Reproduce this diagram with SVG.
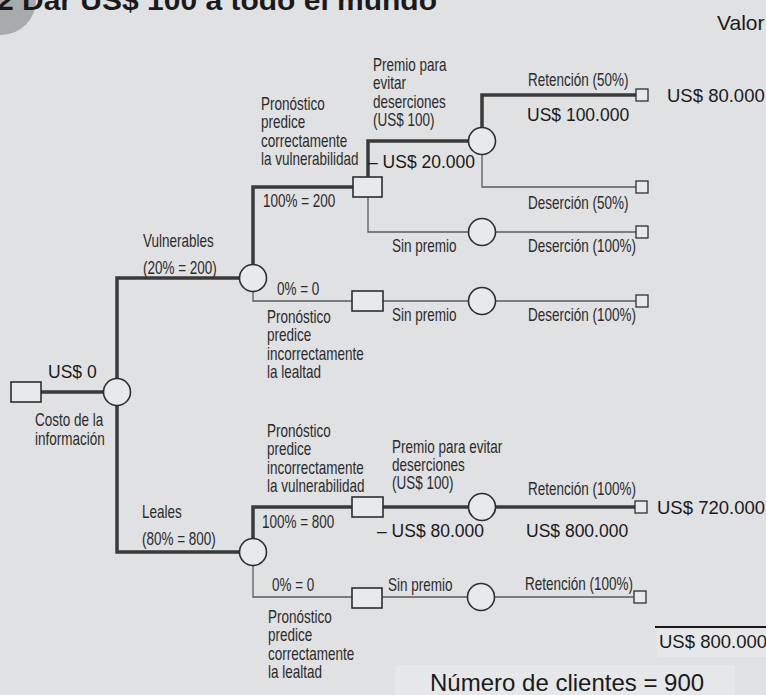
<svg xmlns="http://www.w3.org/2000/svg" width="766" height="695" viewBox="0 0 766 695">
<style>
.lbl{font-family:"Liberation Sans",Arial,sans-serif;font-size:18px;fill:#2b2b2b}
.val{font-family:"Liberation Sans",Arial,sans-serif;font-size:17.5px;fill:#1a1a1a}
.big{font-family:"Liberation Sans",Arial,sans-serif;font-size:18.5px;fill:#1a1a1a}
.thick{stroke:#3a3a3a;stroke-width:3.5;fill:none}
.thin{stroke:#5a5a5a;stroke-width:1.3;fill:none}
.node{fill:#e8e9eb;stroke:#2e2e2e;stroke-width:1.6}
.term{fill:#e8e9eb;stroke:#2e2e2e;stroke-width:1.3}
</style>
<rect x="0" y="0" width="766" height="695" fill="#e0e1e3"/>
<rect x="657" y="628" width="109" height="29" fill="#e6e7e9"/>
<rect x="395" y="665" width="340" height="30" fill="#e6e7e9"/>
<circle cx="1" cy="0" r="35" fill="#a9aaac"/>
<text x="-3" y="10" font-family="Liberation Sans,Arial,sans-serif" font-size="28" font-weight="bold" fill="#1a1a1a" textLength="440" lengthAdjust="spacingAndGlyphs">2 Dar US$ 100 a todo el mundo</text>
<text x="717" y="30" font-family="Liberation Sans,Arial,sans-serif" font-size="21" fill="#1a1a1a">Valor</text>

<g id="connectors">
<path class="thick" d="M41,392 H104"/>
<path class="thick" d="M117,379 V278 H240"/>
<path class="thick" d="M117,405 V552 H240"/>
<path class="thick" d="M253,265 V187 H353"/>
<path class="thick" d="M368,177 V141 H468"/>
<path class="thick" d="M482,128 V95 H636"/>
<path class="thick" d="M253,539 V507 H352"/>
<path class="thick" d="M383,507 H468"/>
<path class="thick" d="M496,507 H635"/>
<path class="thin" d="M253,291 V301 H352"/>
<path class="thin" d="M368,197 V232 H468"/>
<path class="thin" d="M496,232 H636"/>
<path class="thin" d="M383,301 H468"/>
<path class="thin" d="M496,301 H636"/>
<path class="thin" d="M482,155 V187 H636"/>
<path class="thin" d="M253,566 V597 H352"/>
<path class="thin" d="M382,597 H467"/>
<path class="thin" d="M495,597 H634"/>
<path d="M655,627 H766" stroke="#1a1a1a" stroke-width="2"/>
</g>

<g id="root-decision"><rect class="node" x="11" y="382" width="30" height="20"/></g>
<g id="root-chance"><circle class="node" cx="117" cy="392" r="13.5"/></g>
<g id="vulnerables-chance"><circle class="node" cx="253" cy="278" r="13.5"/></g>
<g id="leales-chance"><circle class="node" cx="253" cy="552" r="13.5"/></g>
<g id="decision-vuln-correct"><rect class="node" x="353" y="177" width="29" height="20"/></g>
<g id="decision-vuln-incorrect"><rect class="node" x="352" y="291" width="31" height="20"/></g>
<g id="decision-leal-incorrect"><rect class="node" x="352" y="497" width="31" height="20"/></g>
<g id="decision-leal-correct"><rect class="node" x="352" y="588" width="30" height="20"/></g>
<g id="chance-premio-v"><circle class="node" cx="482" cy="141" r="13.5"/></g>
<g id="chance-sinpremio-v1"><circle class="node" cx="482" cy="232" r="13.5"/></g>
<g id="chance-sinpremio-v2"><circle class="node" cx="482" cy="301" r="13.5"/></g>
<g id="chance-premio-l"><circle class="node" cx="482" cy="507" r="13.5"/></g>
<g id="chance-sinpremio-l"><circle class="node" cx="481" cy="597" r="13.5"/></g>
<g id="end-1"><rect class="term" x="636" y="89" width="12" height="12"/></g>
<g id="end-2"><rect class="term" x="636" y="181" width="12" height="12"/></g>
<g id="end-3"><rect class="term" x="636" y="226" width="12" height="12"/></g>
<g id="end-4"><rect class="term" x="636" y="295" width="12" height="12"/></g>
<g id="end-5"><rect class="term" x="635" y="501" width="12" height="12"/></g>
<g id="end-6"><rect class="term" x="634" y="591" width="12" height="12"/></g>

<g id="narrow-labels" transform="scale(0.75 1)">
<text class="lbl" x="46.67" y="426.5">Costo de la</text>
<text class="lbl" x="46.67" y="444.8">información</text>
<text class="lbl" x="190.67" y="247">Vulnerables</text>
<text class="lbl" x="190.67" y="274">(20% = 200)</text>
<text class="lbl" x="189.33" y="518">Leales</text>
<text class="lbl" x="189.33" y="545">(80% = 800)</text>

<text class="lbl" x="348" y="110">Pronóstico</text>
<text class="lbl" x="348" y="128.3">predice</text>
<text class="lbl" x="348" y="146.6">correctamente</text>
<text class="lbl" x="348" y="165">la vulnerabilidad</text>
<text class="lbl" x="350.67" y="207">100% = 200</text>
<text class="lbl" x="497.33" y="71">Premio para</text>
<text class="lbl" x="497.33" y="89.3">evitar</text>
<text class="lbl" x="497.33" y="107.6">deserciones</text>
<text class="lbl" x="497.33" y="126">(US$ 100)</text>
<text class="lbl" x="704" y="86">Retención (50%)</text>
<text class="lbl" x="704" y="209">Deserción (50%)</text>
<text class="lbl" x="522.67" y="252">Sin premio</text>
<text class="lbl" x="704" y="252">Deserción (100%)</text>

<text class="lbl" x="369.33" y="295">0% = 0</text>
<text class="lbl" x="356" y="323">Pronóstico</text>
<text class="lbl" x="356" y="341.3">predice</text>
<text class="lbl" x="356" y="359.6">incorrectamente</text>
<text class="lbl" x="356" y="378">la lealtad</text>
<text class="lbl" x="522.67" y="321">Sin premio</text>
<text class="lbl" x="704" y="321">Deserción (100%)</text>

<text class="lbl" x="356" y="437">Pronóstico</text>
<text class="lbl" x="356" y="455.3">predice</text>
<text class="lbl" x="356" y="473.6">incorrectamente</text>
<text class="lbl" x="356" y="492">la vulnerabilidad</text>
<text class="lbl" x="522.67" y="453">Premio para evitar</text>
<text class="lbl" x="522.67" y="471">deserciones</text>
<text class="lbl" x="522.67" y="489">(US$ 100)</text>
<text class="lbl" x="349.33" y="528">100% = 800</text>
<text class="lbl" x="704" y="495">Retención (100%)</text>

<text class="lbl" x="362.67" y="591">0% = 0</text>
<text class="lbl" x="517.33" y="591">Sin premio</text>
<text class="lbl" x="700" y="590">Retención (100%)</text>
<text class="lbl" x="357.33" y="623">Pronóstico</text>
<text class="lbl" x="357.33" y="641.3">predice</text>
<text class="lbl" x="357.33" y="659.6">correctamente</text>
<text class="lbl" x="357.33" y="678">la lealtad</text>
</g>

<g id="value-labels">
<text class="val" x="48" y="378">US$ 0</text>
<text class="val" x="368" y="168">– US$ 20.000</text>
<text class="val" x="527" y="121">US$ 100.000</text>
<text class="big" x="667" y="102">US$ 80.000</text>
<text class="val" x="377" y="537">– US$ 80.000</text>
<text class="big" x="657" y="514">US$ 720.000</text>
<text class="val" x="526" y="537">US$ 800.000</text>
<text class="big" x="659" y="648">US$ 800.000</text>
<text x="430" y="691" font-family="Liberation Sans,Arial,sans-serif" font-size="24" fill="#1a1a1a">Número de clientes = 900</text>
</g>
</svg>
